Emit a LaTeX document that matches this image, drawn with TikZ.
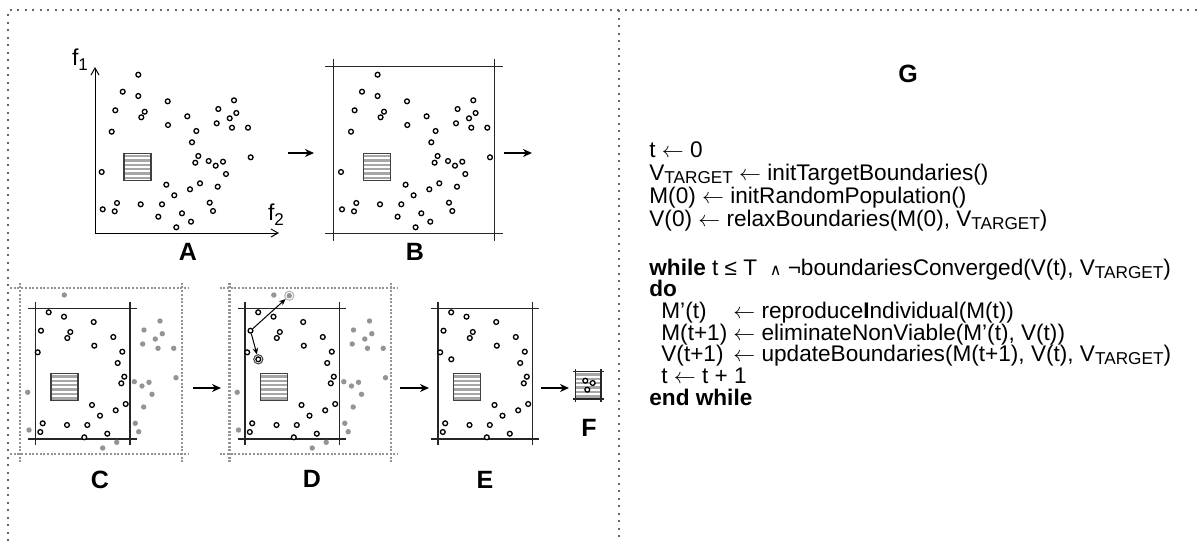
\documentclass[tikz,border=0pt]{standalone}
\usepackage{fontspec}
\setmainfont{Liberation Sans}
\newfontfamily\symfont{DejaVu Sans}
\usetikzlibrary{arrows.meta}
\newcommand{\sbs}[1]{\raisebox{-1.5pt}{\fontsize{8.6}{8.6}\selectfont #1}}
\newcommand{\larr}{$\leftarrow$}
\def\ptsA{138.3/74.7, 122.7/91.7, 138.3/96, 167.7/101.3, 115.3/110.3, 144.7/111.7, 141.3/117.3, 234/100.3, 218.3/109, 236.3/113, 229.7/118.3, 216.7/123.3, 232/127.7, 248/127.7, 187.3/116.3, 168/125, 196.3/131, 111.7/131.7, 192/142.3, 198.3/156, 195.3/162.7, 208.7/161, 215.7/165.7, 223/161.7, 226/174, 250.7/157.3, 101.7/172, 166.3/184.7, 190/189.3, 200/183.3, 217.7/186.7, 174.3/195.3, 209.7/202.7, 213/211, 102.7/209.3, 117/203, 114.7/211.3, 140.7/204.3, 162/204.3, 158.3/216.7, 182/213.3, 191/221.7, 176.3/227.3}
\def\ptsC{48.7/312.3, 64/316.7, 93.7/322, 41/330.7, 70.3/332, 67.3/338, 113.3/337, 94.3/345.7, 37.7/352.3, 122.3/351.7, 117.7/363, 124.3/376.7, 121.3/383.3, 92/405, 125.7/404, 115.7/410.3, 100/415.7, 42.7/423.3, 40.3/432, 67/425, 87.3/425, 84.3/437.3, 107.3/433.7}
\def\grC{64.3/295, 160/321, 144/330, 162.3/333.7, 155.3/339, 142.7/344, 158/348.3, 173.7/348.3, 176/377.7, 134.3/381.7, 142/386, 149/382.3, 152/394.3, 143.7/407, 27.7/392.3, 29/430, 135.3/423.3, 138.7/431.7, 116.7/442.3, 102.7/448}
\begin{document}
\begin{tikzpicture}[x=0.5pt,y=-0.5pt,
  frame/.style={draw=black!60, line width=1pt, dash pattern=on 1pt off 2.75pt},
  bnd/.style={draw=black!85, line width=0.7pt},
  gbnd/.style={draw=black!42, line width=1.1pt, dash pattern=on 1pt off 0.85pt},
  odot/.style={circle, draw=black, fill=white, line width=0.65pt, inner sep=0pt, minimum size=2.4pt},
  gdot/.style={circle, fill=black!42, inner sep=0pt, minimum size=2.7pt},
  ring/.style={circle, line width=0.5pt, inner sep=0pt, minimum size=4.6pt},
  flow/.style={line width=1pt, -{Stealth[length=4.5pt,width=4pt]}},
  kid/.style={line width=0.5pt, -{Stealth[length=3.2pt,width=2.8pt]}},
  axis/.style={line width=0.5pt, -{Straight Barb[length=3.5pt,width=4pt]}},
  stripes/.style={inner sep=0pt, path picture={
     \foreach \k in {-2.5,...,2.5}
       \draw[black!35, line width=1.2pt] ([yshift=\k*2.2pt]path picture bounding box.west) -- ([yshift=\k*2.2pt]path picture bounding box.east);}},
  hatchbox/.style={stripes, draw=black!75, line width=0.6pt, minimum size=13.5pt},
  lbl/.style={font=\bfseries\fontsize{12.5}{12.5}\selectfont},
  code/.style={anchor=base west, inner sep=0pt, font=\fontsize{11.3}{11.3}\selectfont},
  flab/.style={inner sep=0pt, font=\fontsize{11.5}{11.5}\selectfont}]
\useasboundingbox (0,0) rectangle (1200,541);

% outer frame
\draw[frame] (8,541) -- (8,10) -- (1200,10);
\draw[frame] (619,10) -- (619,541);

% ---------- panel A ----------
\coordinate (o) at (95,233);
\coordinate (ytip) at (95,67);
\coordinate (xtip) at (279,233);
\draw[axis] (o) -- (ytip);
\draw[axis] (o) -- (xtip);
\node[flab] (f1) at (80,60) {f\raisebox{-2.5pt}{\fontsize{8.5}{8.5}\selectfont 1}};
\node[flab] (f2) at (276,215) {f\raisebox{-2.5pt}{\fontsize{8.5}{8.5}\selectfont 2}};
\node[hatchbox] (hA) at (137.5,167) {};
\foreach \x/\y [count=\i] in \ptsA {\node[odot] (a\i) at (\x,\y) {};}
\node[lbl] (A) at (188,252) {A};

% ---------- panel B ----------
\draw[bnd] (325,66.7) -- (502.7,66.7);
\draw[bnd] (325,233.7) -- (502.7,233.7);
\draw[bnd] (333.3,59.3) -- (333.3,240.7);
\draw[bnd] (494.3,59.3) -- (494.3,240.7);
\node[hatchbox] (hB) at (376.8,167) {};
\foreach \x/\y [count=\i] in \ptsA {\node[odot] (b\i) at (\x+239.3,\y) {};}
\node[lbl] (B) at (415,252) {B};

\coordinate (ab1) at (288,153); \coordinate (ab2) at (314,153);
\draw[flow] (ab1) -- (ab2);
\coordinate (bx1) at (504,153); \coordinate (bx2) at (532,153);
\draw[flow] (bx1) -- (bx2);

% ---------- panel C ----------
\draw[gbnd] (10,287.7) -- (188,287.7);
\draw[gbnd] (10,454) -- (188,454);
\draw[gbnd] (20,282.7) -- (20,461.7);
\draw[gbnd] (181.7,282.7) -- (181.7,461.7);
\draw[bnd] (28.3,308.3) -- (136.7,308.3);
\draw[bnd] (28.3,439) -- (136.7,439);
\draw[bnd] (35.3,301.7) -- (35.3,445);
\draw[bnd] (130,301.7) -- (130,445);
\node[hatchbox] (hC) at (64.5,387.3) {};
\foreach \x/\y [count=\i] in \grC {\node[gdot] (cg\i) at (\x,\y) {};}
\foreach \x/\y [count=\i] in \ptsC {\node[odot] (c\i) at (\x,\y) {};}
\node[lbl] (C) at (100,480) {C};

\coordinate (cd1) at (193,388); \coordinate (cd2) at (221,388);
\draw[flow] (cd1) -- (cd2);

% ---------- panel D ----------
\begin{scope}[shift={(209.5,0)}]
\draw[gbnd] (10,287.7) -- (188,287.7);
\draw[gbnd] (10,454) -- (188,454);
\draw[gbnd] (20,282.7) -- (20,461.7);
\draw[gbnd] (181.7,282.7) -- (181.7,461.7);
\draw[bnd] (28.3,308.3) -- (136.7,308.3);
\draw[bnd] (28.3,439) -- (136.7,439);
\draw[bnd] (35.3,301.7) -- (35.3,445);
\draw[bnd] (130,301.7) -- (130,445);
\end{scope}
\node[hatchbox] (hD) at (274,387.3) {};
\foreach \x/\y [count=\i] in \grC {\node[gdot] (dg\i) at (\x+209.5,\y) {};}
\foreach \x/\y [count=\i] in \ptsC {\node[odot] (d\i) at (\x+209.5,\y) {};}
\node[ring, draw=black!75] (kidB) at (258.3,359.3) {};
\node[odot] (kidBc) at (258.3,359.3) {};
\node[ring, draw=black!30] (kidG) at (289.3,295.7) {};
\node[gdot] (kidGc) at (289.3,295.7) {};
\draw[kid] (d4) -- (kidG);
\draw[kid] (d4) -- (kidB);
\node[lbl] (D) at (312,479) {D};

\coordinate (de1) at (400,388); \coordinate (de2) at (429,388);
\draw[flow] (de1) -- (de2);

% ---------- panel E ----------
\begin{scope}[shift={(402.5,0)}]
\draw[bnd] (28.3,308.3) -- (136.7,308.3);
\draw[bnd] (28.3,439) -- (136.7,439);
\draw[bnd] (35.3,301.7) -- (35.3,445);
\draw[bnd] (130,301.7) -- (130,445);
\end{scope}
\node[hatchbox] (hE) at (467,387.3) {};
\foreach \x/\y [count=\i] in \ptsC {\node[odot] (e\i) at (\x+402.5,\y) {};}
\node[odot] (e24) at (451.3,359.3) {};
\node[lbl] (E) at (485,480) {E};

\coordinate (ef1) at (541,388); \coordinate (ef2) at (569,388);
\draw[flow] (ef1) -- (ef2);

% ---------- panel F ----------
\node[stripes, minimum width=12.7pt, minimum height=13.6pt] (hF) at (588.3,385.3) {};
\draw[bnd] (572.7,371.7) -- (604,371.7);
\draw[bnd] (572.7,399) -- (604,399);
\draw[bnd] (575.7,369) -- (575.7,402);
\draw[bnd] (601,369) -- (601,402);
\node[odot] (f1d) at (585.3,380.7) {};
\node[odot] (f2d) at (592.7,383) {};
\node[odot] (f3d) at (587.3,389.7) {};
\node[lbl] (F) at (589,428) {F};

% ---------- panel G ----------
\node[lbl] (G) at (908,74) {G};
\node[code] (l1) at (649,157) {t \larr{} 0};
\node[code] (l2) at (649,180) {V\sbs{TARGET} \larr{} initTargetBoundaries()};
\node[code] (l3) at (649,203) {M(0) \larr{} initRandomPopulation()};
\node[code] (l4) at (649,226) {V(0) \larr{} relaxBoundaries(M(0), V\sbs{TARGET})};
\node[code] (l5) at (649,275) {\textbf{while} t ≤ T \ {\symfont\fontsize{8}{8}\selectfont ∧} ¬boundariesConverged(V(t), V\sbs{TARGET})};
\node[code] (l6) at (649,296.7) {\textbf{do}};
\node[code] (l7a) at (661,318.4) {M’(t)};
\node[code] (l7b) at (733,318.4) {\larr{} reproduce\textbf{I}ndividual(M(t))};
\node[code] (l8a) at (661,340.1) {M(t+1)};
\node[code] (l8b) at (733,340.1) {\larr{} eliminateNonViable(M’(t), V(t))};
\node[code] (l9a) at (661,361.8) {V(t+1)};
\node[code] (l9b) at (733,361.8) {\larr{} updateBoundaries(M(t+1), V(t), V\sbs{TARGET})};
\node[code] (l10) at (661,383.5) {t \larr{} t + 1};
\node[code] (l11) at (649,405.2) {\textbf{end while}};
\end{tikzpicture}
\end{document}
